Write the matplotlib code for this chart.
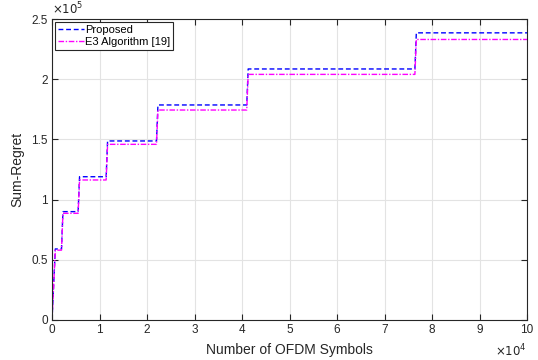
import matplotlib
matplotlib.use("Agg")
import matplotlib.pyplot as plt
from matplotlib.ticker import FuncFormatter, MultipleLocator

plt.rcParams['font.family'] = ['Liberation Sans', 'DejaVu Sans']

# Data (x in OFDM symbols, y in sum-regret)
x_vals = [0, 700, 2000, 2300, 5500, 5800, 11400, 11700, 22000, 22300, 41000, 41300, 76400, 76700, 100000]
proposed = [0, 0.59e5, 0.59e5, 0.90e5, 0.90e5, 1.19e5, 1.19e5, 1.487e5, 1.487e5, 1.786e5, 1.786e5,
            2.085e5, 2.085e5, 2.385e5, 2.385e5]
e3 = [0, 0.58e5, 0.58e5, 0.886e5, 0.886e5, 1.163e5, 1.163e5, 1.459e5, 1.459e5, 1.744e5, 1.744e5,
      2.04e5, 2.04e5, 2.33e5, 2.33e5]
labels = ['Proposed', 'E3 Algorithm [19]']

fig = plt.figure(figsize=(5.38, 3.6), dpi=100)
ax = fig.add_axes([52/538, 1-320/360, (527-52)/538, (320-19)/360])

ax.plot(x_vals, proposed, '--', color=(0, 0, 1), lw=1.0, label=labels[0], dashes=(3.5, 2))
ax.plot(x_vals, e3, '-.', color=(1, 0, 1), lw=1.0, label=labels[1], dashes=(4, 1.2, 1, 1.2))

ax.set_xlim(0, 1e5)
ax.set_ylim(0, 2.5e5)
ax.xaxis.set_major_locator(MultipleLocator(1e4))
ax.yaxis.set_major_locator(MultipleLocator(0.5e5))
ax.xaxis.set_major_formatter(FuncFormatter(lambda v, p: '%g' % round(v / 1e4, 6)))
ax.yaxis.set_major_formatter(FuncFormatter(lambda v, p: '%g' % round(v / 1e5, 6)))

ax.grid(True, color='#e3e3e3', lw=0.8)
ax.set_axisbelow(True)
ax.tick_params(direction='in', top=True, right=True, labelsize=8.5, colors='#262626',
               length=4, width=0.8, pad=3)
for s in ax.spines.values():
    s.set_color('#262626')
    s.set_linewidth(0.8)

ax.set_xlabel('Number of OFDM Symbols', fontsize=10, color='#262626', labelpad=5)
ax.set_ylabel('Sum-Regret', fontsize=10, color='#262626', labelpad=5)

ax.text(0.0, 1.005, r'$\times10^{5}$', transform=ax.transAxes, fontsize=8.5,
        ha='left', va='bottom', color='#262626')
ax.text(1.0, -0.075, r'$\times10^{4}$', transform=ax.transAxes, fontsize=8.5,
        ha='right', va='top', color='#262626')

leg = ax.legend(loc='upper left', fontsize=8, frameon=True, fancybox=False,
                edgecolor='#262626', framealpha=1, borderpad=0.25, labelspacing=0.2,
                handlelength=2.3, handletextpad=0.1, borderaxespad=0.3)
leg.get_frame().set_linewidth(0.8)

fig.savefig('out.png', dpi=100)
